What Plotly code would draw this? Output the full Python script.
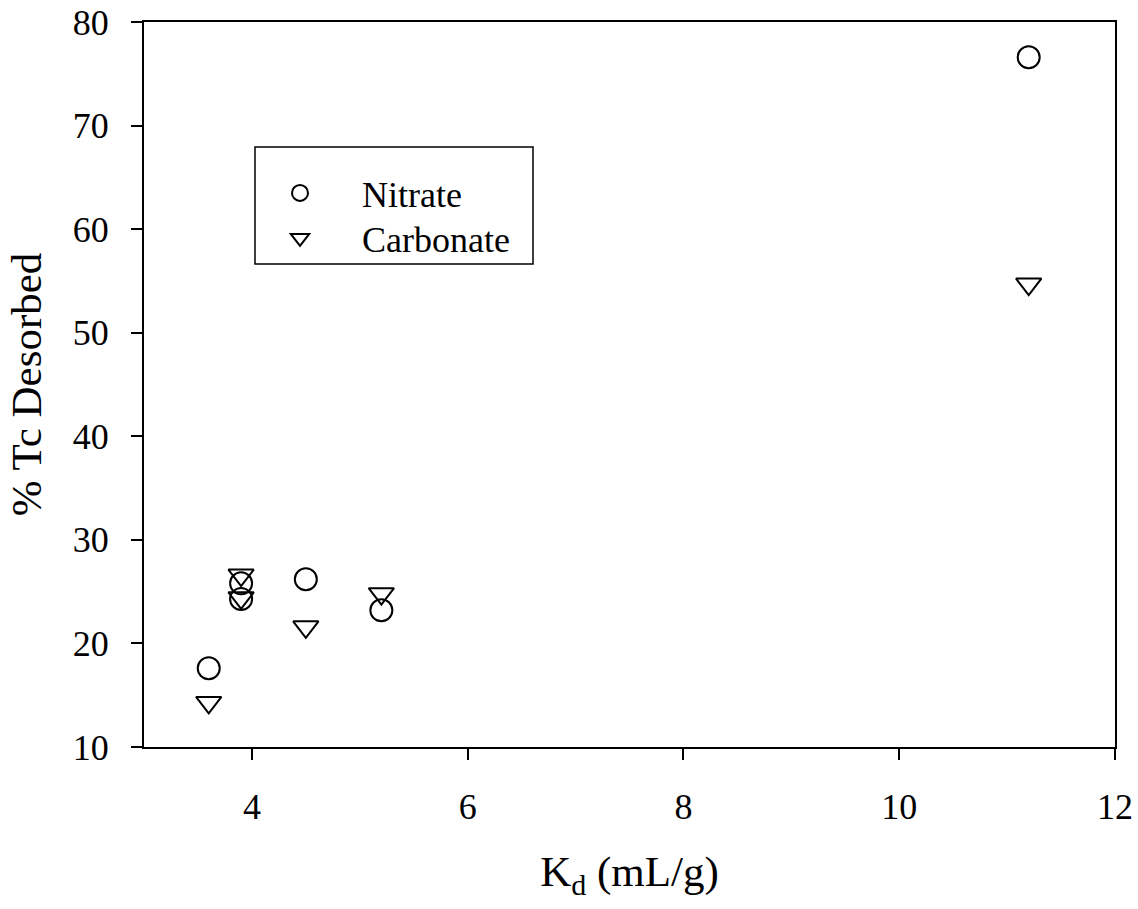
import plotly.graph_objects as go

kd_values = [3.6, 3.9, 3.9, 4.5, 5.2, 11.2]
nitrate_desorbed = [17.6, 25.8, 24.3, 26.2, 23.2, 76.6]
carbonate_desorbed = [14.3, 26.6, 24.4, 21.6, 24.8, 54.7]
series_names = ["Nitrate", "Carbonate"]
x_ticks = [4, 6, 8, 10, 12]
y_ticks = [10, 20, 30, 40, 50, 60, 70, 80]

FONT = "Liberation Serif, Times New Roman, serif"

# plot area in pixels
L, R, T, B = 144, 1115, 22, 747
W, H = 1138, 909
PW, PH = R - L, B - T


def px_x(p):
    return (p - L) / PW


def px_y(p):
    return (B - p) / PH


fig = go.Figure()
fig.add_trace(go.Scatter(
    x=kd_values, y=nitrate_desorbed, mode="markers", name=series_names[0],
    legend="legend",
    marker=dict(symbol="circle-open", size=22, color="black", line=dict(width=2, color="black")),
))
fig.add_trace(go.Scatter(
    x=kd_values, y=carbonate_desorbed, mode="markers", name=series_names[1],
    legend="legend2",
    marker=dict(symbol="triangle-down-open", size=22, color="black", line=dict(width=2, color="black")),
))

axis_common = dict(
    showline=True, linecolor="black", linewidth=2, mirror=True,
    ticks="outside", ticklen=11, tickwidth=1.5, tickcolor="black",
    showgrid=False, zeroline=False, automargin=False,
    tickfont=dict(family=FONT, size=36, color="black"),
)

fig.update_xaxes(range=[3, 12], tickvals=x_ticks, ticklabelstandoff=16,
                 title=dict(text="K<sub>d</sub> (mL/g)", font=dict(family=FONT, size=43, color="black"), standoff=30),
                 **axis_common)
fig.update_yaxes(range=[10, 80], tickvals=y_ticks, ticklabelstandoff=15,
                 title=dict(text="% Tc Desorbed", font=dict(family=FONT, size=43, color="black"), standoff=18),
                 **axis_common)

# legend border box
fig.add_shape(type="rect", xref="paper", yref="paper",
              x0=px_x(255), x1=px_x(533), y0=px_y(264), y1=px_y(147),
              line=dict(color="black", width=1.5), fillcolor="rgba(0,0,0,0)")

legend_common = dict(
    xanchor="left", yanchor="middle",
    bgcolor="rgba(0,0,0,0)", borderwidth=0,
    font=dict(family=FONT, size=36, color="black"),
    itemwidth=114, tracegroupgap=0,
)

fig.update_layout(
    width=W, height=H,
    margin=dict(l=L, r=W - R, t=T, b=H - B),
    plot_bgcolor="white", paper_bgcolor="white",
    font=dict(family=FONT, color="black"),
    showlegend=True,
    legend=dict(x=px_x(238), y=px_y(193), **legend_common),
    legend2=dict(x=px_x(238), y=px_y(238), **legend_common),
)

fig.write_html(
    "out.html",
    config={"displayModeBar": False},
    post_script="document.body.style.margin='0';document.body.style.overflow='hidden';",
)
